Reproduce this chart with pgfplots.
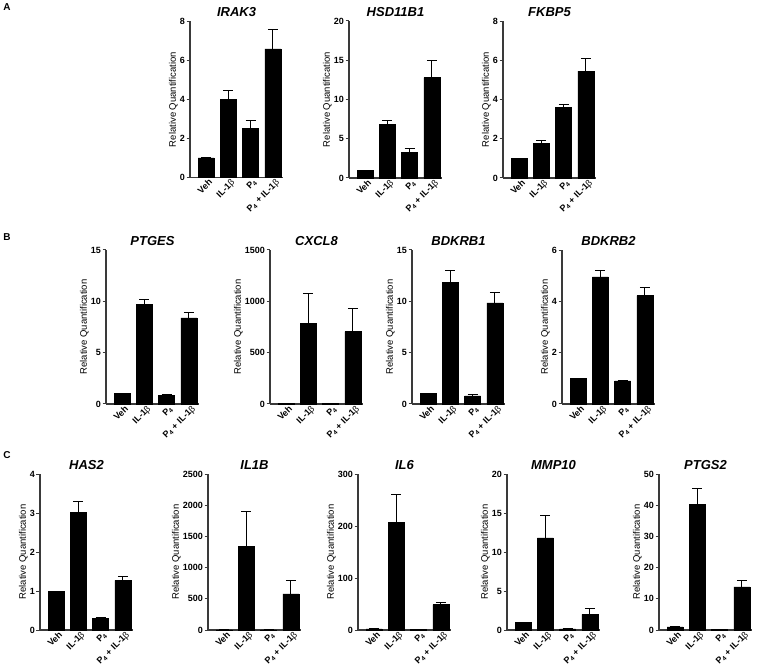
\documentclass[border=0pt]{standalone}
\usepackage{pgfplots}
\pgfplotsset{compat=1.18}
\usepackage{fontspec}
\setmainfont{Liberation Sans}
\definecolor{axgray}{HTML}{3A3A3A}
\newcommand{\bet}{\textmd{β}}
\pgfplotsset{
  gene/.style={
    scale only axis, width=93bp, anchor=south west,
    xmin=-0.72, xmax=3.45, ymin=0, enlargelimits=false,
    axis x line*=bottom, axis y line*=left,
    axis line style={axgray, line width=1.1bp, -},
    xtick={0,1,2,3}, major x tick style={draw=none},
    xticklabels={Veh, IL-1\bet, P\textsubscript{4}, P\textsubscript{4} + IL-1\bet},
    xticklabel style={rotate=45, anchor=north east, font=\fontsize{9bp}{10bp}\selectfont\bfseries, inner sep=1bp, xshift=2bp, yshift=-1bp},
    ytick align=outside, major tick length=3.5bp, ytick pos=left,
    major y tick style={axgray, line width=1bp},
    /pgf/number format/assume math mode=true,
    /pgf/number format/1000 sep={},
    yticklabel style={font=\fontsize{9bp}{10bp}\selectfont\bfseries, inner sep=1.5bp},
    ylabel={Relative Quantification},
    ylabel style={font=\fontsize{9.5bp}{10bp}\selectfont, yshift=-3bp},
    title style={at={(0.5,1)}, anchor=base, font=\fontsize{13bp}{14bp}\selectfont\bfseries\itshape, yshift=-1bp},
    clip=false,
  },
  barp/.style={ybar, bar width=16bp, fill=black, draw=black, line width=0.5bp,
    error bars/.cd, y dir=plus, y explicit,
    error bar style={black, line width=1bp},
    error mark options={rotate=90, mark size=5bp, line width=1bp}},
}
\begin{document}
\begin{tikzpicture}
\useasboundingbox (0bp,0bp) rectangle (758bp,670bp);
\node[font=\fontsize{10bp}{11bp}\selectfont\bfseries] at (7bp,663bp) {A};
\node[font=\fontsize{10bp}{11bp}\selectfont\bfseries] at (7bp,433bp) {B};
\node[font=\fontsize{10bp}{11bp}\selectfont\bfseries] at (7bp,215bp) {C};
% ---- Panel A
\begin{axis}[gene, at={(190bp,492.5bp)}, height=156bp, ymax=8, ytick={0,2,4,6,8}, title={IRAK3}]
\addplot[barp] coordinates {(0,1.0) +- (0,0) (1,4.0) +- (0,0.45) (2,2.5) +- (0,0.4) (3,6.6) +- (0,1.0)};
\end{axis}
\begin{axis}[gene, at={(349bp,492bp)}, height=157bp, ymax=20, ytick={0,5,10,15,20}, title={HSD11B1}]
\addplot[barp] coordinates {(0,1.0) +- (0,0) (1,6.8) +- (0,0.5) (2,3.3) +- (0,0.5) (3,12.8) +- (0,2.2)};
\end{axis}
\begin{axis}[gene, at={(503bp,492bp)}, height=157bp, ymax=8, ytick={0,2,4,6,8}, title={FKBP5}]
\addplot[barp] coordinates {(0,1.0) +- (0,0) (1,1.75) +- (0,0.17) (2,3.6) +- (0,0.12) (3,5.45) +- (0,0.65)};
\end{axis}
% ---- Panel B
\begin{axis}[gene, at={(106bp,266bp)}, height=154bp, ymax=15, ytick={0,5,10,15}, title={PTGES}]
\addplot[barp] coordinates {(0,1.0) +- (0,0) (1,9.7) +- (0,0.45) (2,0.85) +- (0,0.05) (3,8.4) +- (0,0.5)};
\end{axis}
\begin{axis}[gene, at={(270bp,266bp)}, height=154bp, ymax=1500, ytick={0,500,1000,1500}, title={CXCL8}]
\addplot[barp] coordinates {(0,5) +- (0,0) (1,785) +- (0,290) (2,3) +- (0,0) (3,705) +- (0,225)};
\end{axis}
\begin{axis}[gene, at={(412bp,266bp)}, height=154bp, ymax=15, ytick={0,5,10,15}, title={BDKRB1}]
\addplot[barp] coordinates {(0,1.0) +- (0,0) (1,11.85) +- (0,1.15) (2,0.8) +- (0,0.08) (3,9.85) +- (0,1.0)};
\end{axis}
\begin{axis}[gene, at={(562bp,266bp)}, height=154bp, ymax=6, ytick={0,2,4,6}, title={BDKRB2}]
\addplot[barp] coordinates {(0,1.0) +- (0,0) (1,4.95) +- (0,0.25) (2,0.9) +- (0,0.03) (3,4.22) +- (0,0.3)};
\end{axis}
% ---- Panel C
\begin{axis}[gene, at={(40bp,40bp)}, height=156bp, ymax=4, ytick={0,1,2,3,4}, title={HAS2}]
\addplot[barp] coordinates {(0,1.0) +- (0,0) (1,3.02) +- (0,0.28) (2,0.3) +- (0,0.02) (3,1.27) +- (0,0.09)};
\end{axis}
\begin{axis}[gene, at={(208bp,40bp)}, height=156bp, ymax=2500, ytick={0,500,1000,1500,2000,2500}, title={IL1B}]
\addplot[barp] coordinates {(0,1) +- (0,0) (1,1340) +- (0,560) (2,0.5) +- (0,0) (3,580) +- (0,210)};
\end{axis}
\begin{axis}[gene, at={(358bp,40bp)}, height=156bp, ymax=300, ytick={0,100,200,300}, title={IL6}]
\addplot[barp] coordinates {(0,2) +- (0,0) (1,207) +- (0,53) (2,1) +- (0,0) (3,49) +- (0,3)};
\end{axis}
\begin{axis}[gene, at={(507bp,40bp)}, height=156bp, ymax=20, ytick={0,5,10,15,20}, title={MMP10}]
\addplot[barp] coordinates {(0,1.0) +- (0,0) (1,11.8) +- (0,2.9) (2,0.15) +- (0,0) (3,2.0) +- (0,0.8)};
\end{axis}
\begin{axis}[gene, at={(659bp,40bp)}, height=156bp, ymax=50, ytick={0,10,20,30,40,50}, title={PTGS2}]
\addplot[barp] coordinates {(0,1.0) +- (0,0) (1,40.2) +- (0,5.0) (2,0.3) +- (0,0) (3,13.8) +- (0,2.1)};
\end{axis}
\end{tikzpicture}
\end{document}
